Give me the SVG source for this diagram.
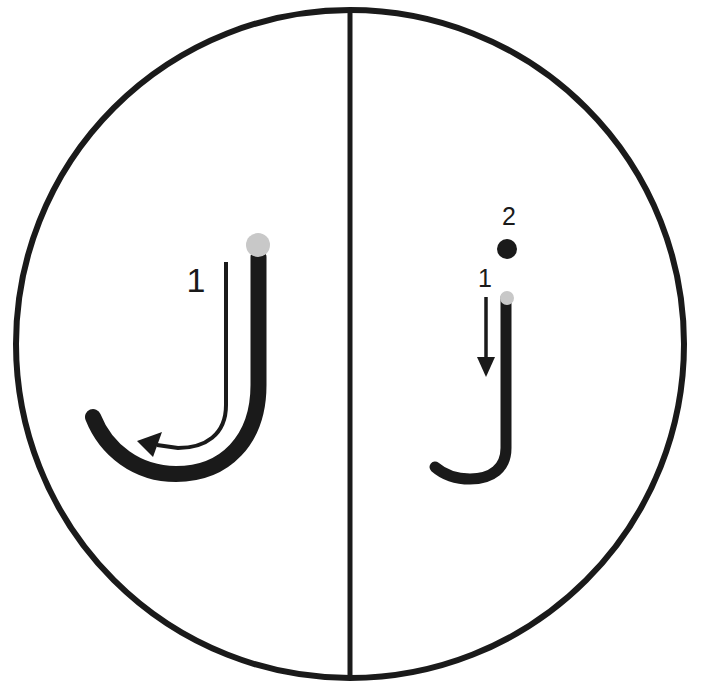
<svg xmlns="http://www.w3.org/2000/svg" width="701" height="692" viewBox="0 0 701 692">
<style>
.outline{fill:none;stroke:#1a1a1a;stroke-width:6}
.stroke{fill:none;stroke:#1a1a1a;stroke-linecap:round}
.guide{fill:none;stroke:#1a1a1a;stroke-width:4}
.head{fill:#1a1a1a}
.start{fill:#c8c8c8}
.lbl{font-family:"Liberation Sans",Arial,sans-serif;fill:#1a1a1a;text-anchor:middle}
</style>
<rect width="701" height="692" fill="#ffffff"/>
<g id="frame">
<circle class="outline" cx="350" cy="344" r="334"/>
<line x1="350" y1="10" x2="350" y2="678" stroke="#1a1a1a" stroke-width="5"/>
</g>
<g id="left-j">
<path class="stroke" stroke-width="16" d="M258.5 257 V385 C258.5 440 225 474 176 474 C137 474 106 450 93 417"/>
<circle class="start" cx="258" cy="245" r="12"/>
</g>
<g id="right-j">
<path class="stroke" stroke-width="11" d="M506 298 V448 C506 468 492 479 470 479 C455 479 443 474 435 467"/>
<circle class="start" cx="507" cy="298" r="7"/>
<circle cx="507" cy="249" r="10" fill="#1a1a1a"/>
</g>
<g id="connectors">
<path class="guide" d="M226 262 V405 C226 435 205 448 178 448 L157 445"/>
<polygon class="head" points="137,441 162,432 153,457"/>
<line x1="486" y1="297" x2="486" y2="360" stroke="#1a1a1a" stroke-width="3.5"/>
<polygon class="head" points="477,357 495,357 486,377"/>
</g>
<g id="labels">
<text class="lbl" x="196" y="292" font-size="34">1</text>
<text class="lbl" x="485" y="287" font-size="25">1</text>
<text class="lbl" x="509" y="225" font-size="25">2</text>
</g>
</svg>
